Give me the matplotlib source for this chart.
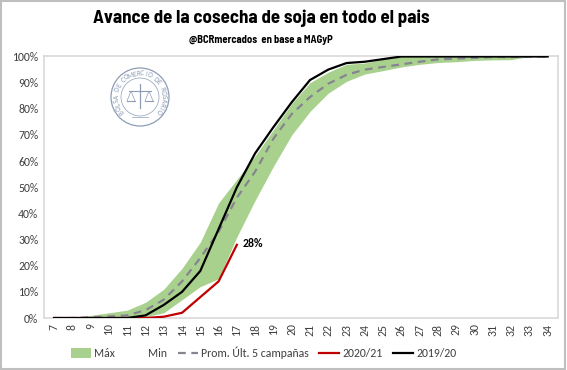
import numpy as np
import matplotlib

matplotlib.use("Agg")
import matplotlib.pyplot as plt
from matplotlib.lines import Line2D
from matplotlib.patches import Circle, Patch, Rectangle

# semanas de cosecha
weeks = list(range(7, 35))
week_labels = [str(w) for w in weeks]

max_vals = [0, 0, 1, 2, 3, 6, 11, 19, 29, 44, 53, 62, 72, 82, 90, 94, 97, 97.5,
            99, 100, 100, 100, 100, 100, 100, 100, 100, 100]
min_vals = [0, 0, 0, 0, 0, 0.5, 2, 7, 12, 15, 31, 45, 58, 70, 79, 86, 90.5, 93.3,
            94.6, 96, 97, 97.7, 98, 98.5, 98.7, 98.8, 100, 100]
prom_vals = [0, 0, 0.3, 0.6, 1, 3, 7, 14, 23, 33, 46, 56, 68.6, 78, 84.5, 89.6, 93,
             95, 96, 97, 98, 98.9, 99.2, 99.5, 99.8, 99.8, 100, 100]
camp_1920 = [0, 0, 0, 0, 0, 1, 5, 10, 18, 34, 50, 63, 73, 82.5, 91, 95, 97.5, 98,
             99, 100, 100, 100, 100, 100, 100, 100, 100, 100]
weeks_2021 = [7, 8, 9, 10, 11, 12, 13, 14, 15, 16, 17]
camp_2021 = [0, 0, 0, 0, 0, 0, 0.5, 2, 8, 14, 28]

yticks = list(range(0, 101, 10))

GREEN = "#A9D18E"
GRAY = "#86848E"
RED = "#C00000"
LOGO = "#8D9DB6"
TEXT = "#404040"
NARROW = ["Barlow Semi Condensed", "Barlow Condensed", "DejaVu Sans"]

plt.rcParams["font.family"] = ["Carlito", "Lato", "DejaVu Sans"]

fig = plt.figure(figsize=(5.67, 3.70), dpi=100)
fig.patches.append(Rectangle((0.002, 0.003), 0.995, 0.993, transform=fig.transFigure,
                             fill=False, edgecolor="#BFBFBF", linewidth=1.5))

ax = fig.add_axes([0.0776, 0.1405, 0.906, 0.7068])

ax.fill_between(weeks, min_vals, max_vals, color=GREEN, linewidth=0, zorder=1)
ax.plot(weeks, prom_vals, color=GRAY, linewidth=1.6, linestyle=(0, (3.5, 2.5)), zorder=2)
ax.plot(weeks_2021, camp_2021, color=RED, linewidth=1.6, zorder=3)
ax.plot(weeks, camp_1920, color="black", linewidth=1.6, zorder=4)

ax.annotate(f"{camp_2021[-1]:.0f}%", (weeks_2021[-1], camp_2021[-1]), xytext=(4, 1),
            textcoords="offset points", fontsize=8.5, fontweight="bold", color="black",
            va="center", ha="left")

ax.set_xlim(6.45, 34.55)
ax.set_ylim(0, 100)
ax.set_xticks(weeks)
ax.set_xticklabels(week_labels, rotation=90, fontsize=8.5, color=TEXT)
ax.set_yticks(yticks)
ax.set_yticklabels([f"{v}%" for v in yticks], fontsize=8.5, color=TEXT)
ax.tick_params(length=0, pad=4)
for spine in ax.spines.values():
    spine.set_color("#D9D9D9")
    spine.set_linewidth(1.2)

# sello de la Bolsa (simplificado)
cx, cy, r = 140, 97, 29
logo_ax = fig.add_axes([0, 0, 1, 1], facecolor="none")
logo_ax.set_xlim(0, 567)
logo_ax.set_ylim(370, 0)
logo_ax.axis("off")
logo_ax.add_patch(Circle((cx, cy), r, fill=False, edgecolor=LOGO, linewidth=0.9))
logo_ax.add_patch(Circle((cx, cy), r - 10, fill=False, edgecolor=LOGO, linewidth=0.5))
seal_text = "BOLSA DE COMERCIO DE ROSARIO"
angles = np.linspace(218, -38, len(seal_text))
for ch, a in zip(seal_text, angles):
    t = np.deg2rad(a)
    logo_ax.text(cx + (r - 5) * np.cos(t), cy - (r - 5) * np.sin(t), ch, fontsize=5.2,
                 color=LOGO, ha="center", va="center", rotation=a - 90)
logo_ax.plot([cx, cx], [cy - 13, cy + 11], color=LOGO, linewidth=0.9)
logo_ax.plot([cx - 11, cx + 11], [cy - 6, cy - 6], color=LOGO, linewidth=0.8)
for sx in (cx - 9, cx + 9):
    logo_ax.plot([sx - 4, sx, sx + 4], [cy + 4, cy - 6, cy + 4], color=LOGO, linewidth=0.5)
    logo_ax.plot([sx - 4, sx + 4], [cy + 4, cy + 4], color=LOGO, linewidth=0.8)
logo_ax.plot([cx - 8, cx + 8], [cy + 20, cy + 20], color=LOGO, linewidth=0.5)

fig.text(0.46, 0.951, "Avance de la cosecha de soja en todo el pais",
         family=NARROW, fontweight="bold", fontsize=13.6, ha="center", va="center")
fig.text(0.46, 0.892, "@BCRmercados  en base a MAGyP",
         family=NARROW, fontweight="bold", fontsize=7.6, ha="center", va="center")

handles = [
    Patch(facecolor=GREEN, edgecolor="none"),
    Patch(facecolor="white", edgecolor="none"),
    Line2D([], [], color=GRAY, linewidth=1.6, linestyle=(0, (3.5, 2.5))),
    Line2D([], [], color=RED, linewidth=1.6),
    Line2D([], [], color="black", linewidth=1.6),
]
labels = ["Máx", "Min", "Prom. Últ. 5 campañas", "2020/21", "2019/20"]
fig.legend(handles, labels, loc="center", bbox_to_anchor=(0.465, 0.046), ncol=5,
           frameon=False, fontsize=8.5, handlelength=1.7, handleheight=0.9,
           handletextpad=0.25, columnspacing=0.9, labelcolor=TEXT)

fig.savefig("out.png", dpi=100)
